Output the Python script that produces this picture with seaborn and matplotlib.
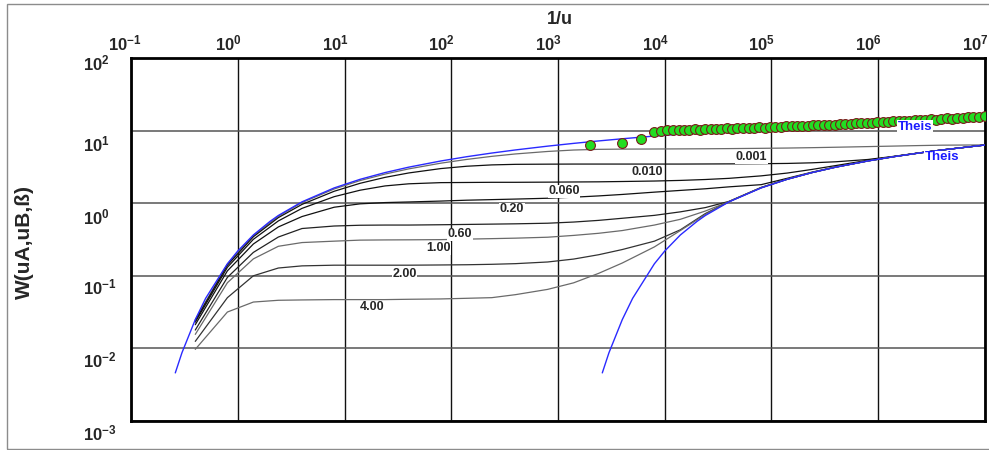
import numpy as np
import pandas as pd
import matplotlib
matplotlib.use("Agg")
import matplotlib.pyplot as plt
import seaborn as sns
from matplotlib.transforms import offset_copy, blended_transform_factory
from matplotlib.patches import Rectangle
from matplotlib.ticker import NullLocator

# --- data ----------------------------------------------------------------
# shared 1/u grid of the Neuman type curves (type A left part, type B right part)
inv_u = [0.4, 0.8, 1.4, 2.4, 4, 8, 14, 24, 40, 80,
         140, 240, 400, 800, 1.4e3, 2.4e3, 4e3, 8e3, 1.4e4, 2.4e4,
         4e4, 8e4, 1.4e5, 2.4e5, 4e5, 8e5, 1.4e6, 2.4e6, 4e6, 1e7]

betas = ["0.001", "0.010", "0.060", "0.20", "0.60", "1.00", "2.00", "4.00"]

w_b0001 = [0.0248, 0.145, 0.358, 0.662, 1.02, 1.57, 2.05, 2.52, 2.97, 3.56,
           4.01, 4.42, 4.77, 5.16, 5.40, 5.52, 5.56, 5.58, 5.60, 5.62,
           5.65, 5.70, 5.75, 5.82, 5.90, 6.02, 6.12, 6.22, 6.30, 6.35]
w_b001 = [0.0241, 0.140, 0.345, 0.633, 0.963, 1.46, 1.88, 2.27, 2.61, 3.00,
          3.23, 3.37, 3.43, 3.45, 3.46, 3.46, 3.46, 3.46, 3.46, 3.47,
          3.48, 3.50, 3.53, 3.60, 3.72, 4.00, 4.42, 4.93, 5.42, 6.33]
w_b006 = [0.0230, 0.131, 0.318, 0.570, 0.849, 1.23, 1.51, 1.73, 1.85, 1.92,
          1.93, 1.94, 1.94, 1.95, 1.96, 1.97, 1.99, 2.02, 2.06, 2.12,
          2.20, 2.38, 2.60, 2.92, 3.30, 3.90, 4.40, 4.92, 5.42, 6.33]
w_b02 = [0.0212, 0.117, 0.274, 0.471, 0.655, 0.88, 0.98, 1.02, 1.04, 1.07,
         1.10, 1.12, 1.14, 1.17, 1.21, 1.26, 1.32, 1.42, 1.50, 1.58,
         1.68, 1.80, 2.20, 2.68, 3.16, 3.83, 4.38, 4.91, 5.42, 6.33]
w_b06 = [0.0179, 0.0951, 0.210, 0.342, 0.448, 0.485, 0.497, 0.50, 0.50, 0.505,
         0.51, 0.515, 0.52, 0.53, 0.55, 0.58, 0.62, 0.68, 0.76, 0.87,
         1.06, 1.65, 2.14, 2.645, 3.14, 3.82, 4.375, 4.91, 5.42, 6.33]
w_b1 = [0.0156, 0.0803, 0.171, 0.255, 0.287, 0.300, 0.310, 0.312, 0.313, 0.315,
        0.32, 0.325, 0.33, 0.34, 0.36, 0.385, 0.42, 0.50, 0.60, 0.78,
        1.05, 1.64, 2.14, 2.645, 3.14, 3.82, 4.375, 4.91, 5.42, 6.33]
w_b2 = [0.0125, 0.050, 0.100, 0.128, 0.137, 0.140, 0.140, 0.140, 0.140, 0.141,
        0.142, 0.144, 0.147, 0.155, 0.17, 0.195, 0.23, 0.30, 0.43, 0.72,
        1.05, 1.635, 2.135, 2.643, 3.14, 3.82, 4.375, 4.91, 5.42, 6.33]
w_b4 = [0.0097, 0.0317, 0.0435, 0.046, 0.0465, 0.047, 0.047, 0.047, 0.0475, 0.048,
        0.049, 0.050, 0.055, 0.065, 0.080, 0.108, 0.15, 0.25, 0.42, 0.70,
        1.05, 1.63, 2.133, 2.642, 3.138, 3.818, 4.373, 4.909, 5.418, 6.332]

# Theis curve vs 1/uA (left) and vs 1/uB (right)
theis_a_x = [0.26, 0.3, 0.4, 0.5, 0.8, 1, 1.4, 2, 2.4, 4, 8, 14, 24, 40, 80, 140,
             240, 400, 800, 1.4e3, 2.4e3, 4e3, 8e3, 1.4e4, 4e4, 1e5, 4e5, 1e6, 4e6, 1e7]
theis_a_w = [0.0046, 0.0087, 0.0249, 0.0489, 0.1465, 0.2194, 0.365, 0.5598, 0.677,
             1.044, 1.623, 2.132, 2.642, 3.137, 3.817, 4.372, 4.908, 5.417, 6.109,
             6.668, 7.206, 7.717, 8.41, 8.969, 10.016, 10.936, 12.322, 13.238,
             14.624, 15.541]
theis_b_x = [2.6e3, 3e3, 4e3, 5e3, 8e3, 1e4, 1.4e4, 2e4, 2.4e4, 4e4, 8e4, 1.4e5,
             2.4e5, 4e5, 8e5, 1.4e6, 2.4e6, 4e6, 1e7]
theis_b_w = [0.0046, 0.0087, 0.0249, 0.0489, 0.1465, 0.2194, 0.365, 0.5598, 0.677,
             1.044, 1.623, 2.132, 2.642, 3.137, 3.817, 4.372, 4.908, 5.417, 6.332]

# observed drawdown points
obs_x = [2.0e3, 4.0e3, 6.0e3, 7.9e3,
         9.3e3, 1.05e4, 1.2e4, 1.35e4, 1.5e4, 1.7e4, 1.9e4, 2.15e4, 2.4e4, 2.7e4,
         3.05e4, 3.4e4, 3.8e4, 4.3e4, 4.8e4, 5.4e4, 6.1e4, 6.8e4, 7.7e4, 8.6e4,
         9.7e4, 1.09e5, 1.22e5, 1.37e5, 1.54e5, 1.73e5, 1.94e5, 2.18e5, 2.45e5, 2.75e5,
         3.1e5, 3.45e5, 3.9e5, 4.35e5, 4.9e5, 5.5e5, 6.2e5, 6.9e5, 7.8e5, 8.7e5,
         9.8e5, 1.1e6, 1.23e6, 1.38e6, 1.55e6, 1.74e6, 1.95e6, 2.2e6, 2.45e6, 2.75e6,
         3.1e6, 3.5e6, 3.9e6, 4.4e6, 4.9e6, 5.5e6, 6.2e6, 7e6, 7.8e6, 8.8e6, 9.9e6]
obs_w = [6.4, 6.65, 7.6, 9.6,
         10.0, 10.1, 10.2, 10.1, 10.3, 10.2, 10.4, 10.3, 10.5, 10.4,
         10.6, 10.5, 10.7, 10.6, 10.8, 10.9, 10.8, 11.0, 11.1, 11.0,
         11.2, 11.3, 11.2, 11.4, 11.5, 11.4, 11.6, 11.7, 11.9, 11.8,
         12.0, 12.1, 12.0, 12.3, 12.4, 12.3, 12.6, 12.7, 12.6, 12.9,
         13.0, 13.2, 13.1, 13.4, 13.5, 13.4, 13.7, 13.9, 13.8, 14.1,
         14.3, 14.2, 14.5, 14.7, 14.6, 14.9, 15.1, 15.3, 15.2, 15.5, 15.8]

x_ticks = [1e-1, 1e0, 1e1, 1e2, 1e3, 1e4, 1e5, 1e6, 1e7]
x_tick_labels = [r"$\mathbf{10^{-1}}$", r"$\mathbf{10^{0}}$", r"$\mathbf{10^{1}}$",
                 r"$\mathbf{10^{2}}$", r"$\mathbf{10^{3}}$", r"$\mathbf{10^{4}}$",
                 r"$\mathbf{10^{5}}$", r"$\mathbf{10^{6}}$", r"$\mathbf{10^{7}}$"]
y_ticks = [1e-3, 1e-2, 1e-1, 1e0, 1e1, 1e2]
y_tick_labels = [r"$\mathbf{10^{-3}}$", r"$\mathbf{10^{-2}}$", r"$\mathbf{10^{-1}}$",
                 r"$\mathbf{10^{0}}$", r"$\mathbf{10^{1}}$", r"$\mathbf{10^{2}}$"]
# baseline drop of each y label below its gridline, in pixels
y_label_drop = [19, 19, 19, 21, 21, 12]

# where the curve labels sit (data coords)
beta_label_pos = [(6.5e4, 4.31), (6.9e3, 2.68), (1.14e3, 1.46), (372, 0.83),
                  (121, 0.374), (75.7, 0.24), (36.4, 0.105), (18.3, 0.0368)]

# --- style ----------------------------------------------------------------
sns.set_style("white")
plt.rcParams["font.family"] = ["Liberation Sans", "DejaVu Sans"]
plt.rcParams["mathtext.fontset"] = "custom"
plt.rcParams["mathtext.rm"] = "Liberation Sans:bold"
plt.rcParams["mathtext.bf"] = "Liberation Sans:bold"

W, H = 989, 450
fig = plt.figure(figsize=(W / 100, H / 100), dpi=100)
ax = fig.add_axes([131 / W, 1 - 421 / H, (985 - 131) / W, (421 - 58) / H])

curves = pd.concat([
    pd.DataFrame({"inv_u": inv_u, "W": w, "beta": b})
    for b, w in zip(betas, [w_b0001, w_b001, w_b006, w_b02, w_b06, w_b1, w_b2, w_b4])
])
line_colors = ["#6a6a6a", "#111111", "#111111", "#111111",
               "#222222", "#6a6a6a", "#333333", "#6a6a6a"]
palette = dict(zip(betas, line_colors))

sns.lineplot(data=curves, x="inv_u", y="W", hue="beta", palette=palette,
             estimator=None, sort=False, legend=False, lw=0.9, ax=ax, zorder=3)
sns.lineplot(x=theis_a_x, y=theis_a_w, color="#2a2aff", lw=1.0, ax=ax, zorder=4)
sns.lineplot(x=theis_b_x, y=theis_b_w, color="#2a2aff", lw=1.0, ax=ax, zorder=4)
sns.scatterplot(x=obs_x, y=obs_w, s=50, color="#22dd22", edgecolor="#7a1a1a",
                linewidth=0.8, ax=ax, zorder=5)

ax.set_xscale("log")
ax.set_yscale("log")
ax.set_xlim(1e-1, 1e7)
ax.set_ylim(1e-3, 1e2)
ax.set_xticks(x_ticks)
ax.set_yticks(y_ticks)
ax.xaxis.set_minor_locator(NullLocator())
ax.yaxis.set_minor_locator(NullLocator())
ax.tick_params(length=0, labelbottom=False, labelleft=False)
ax.set_xlabel("")
ax.set_ylabel("")
ax.grid(axis="x", color="#111111", lw=1.0)
ax.grid(axis="y", color="#555555", lw=1.1)
ax.set_axisbelow(True)
for sp in ax.spines.values():
    sp.set_color("black")
    sp.set_linewidth(2)

# tick labels the way the original software places them
tx = offset_copy(blended_transform_factory(ax.transData, ax.transAxes), fig,
                 x=-23, y=8, units="dots")
for v, lab in zip(x_ticks, x_tick_labels):
    ax.text(v, 1, lab, transform=tx, ha="left", va="baseline", fontsize=12,
            clip_on=False)
for v, lab, d in zip(y_ticks, y_tick_labels, y_label_drop):
    ty = offset_copy(blended_transform_factory(fig.transFigure, ax.transData), fig,
                     x=0, y=-d, units="dots")
    ax.text(83 / W, v, lab, transform=ty, ha="left", va="baseline", fontsize=12,
            clip_on=False)

# curve labels
for b, (lx, ly) in zip(betas, beta_label_pos):
    ax.text(lx, ly, b, ha="center", va="center", fontsize=9, weight="bold",
            bbox=dict(fc="white", ec="none", pad=0.4), zorder=6)
ax.text(2.2e6, 11.2, "Theis", ha="center", va="center", fontsize=9.5, weight="bold",
        color="#1a1aff", bbox=dict(fc="white", ec="none", pad=0.4), zorder=6)
ax.text(3.96e6, 4.31, "Theis", ha="center", va="center", fontsize=9.5, weight="bold",
        color="#1a1aff", bbox=dict(fc="white", ec="none", pad=0.4), zorder=6)

fig.text(560 / W, 1 - 19 / H, "1/u", ha="center", va="center", fontsize=13,
         weight="bold")
fig.text(24 / W, 1 - 242 / H, "W(uA,uB,ß)", rotation=90, ha="center", va="center",
         fontsize=15, weight="bold")

fig.patches.append(Rectangle((7 / W, 1 / H), 1.0, 445 / H, transform=fig.transFigure,
                             fill=False, ec="#8c8c8c", lw=1))

fig.savefig("out.png", dpi=100)
